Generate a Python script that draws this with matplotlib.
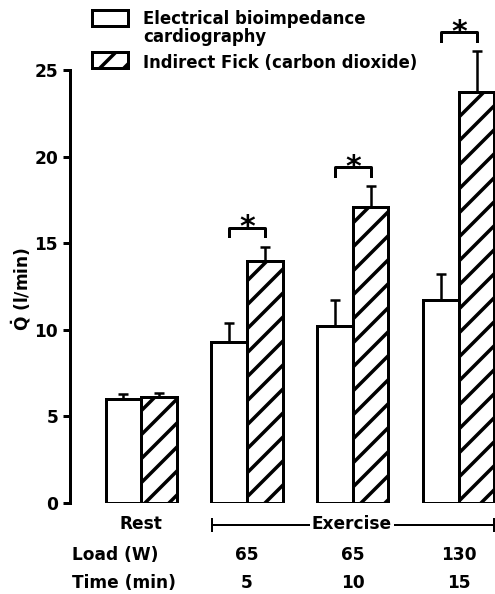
import numpy as np
import matplotlib.pyplot as plt
from matplotlib.patches import Rectangle

# ----------------------------------------
# data
# ----------------------------------------
conditions = ['Rest', '65/5', '65/10', '130/15']
load_w = ['65', '65', '130']
time_min = ['5', '10', '15']

bioimp = [6.0, 9.3, 10.2, 11.7]
bioimp_err = [0.3, 1.1, 1.5, 1.5]
fick = [6.1, 14.0, 17.1, 23.7]
fick_err = [0.25, 0.8, 1.2, 2.4]
signif = [False, True, True, True]

# dpi 72 -> one point is one pixel, and '/' hatch gets ~12 px spacing
DPI = 72
W, H = 495, 594

plt.rcParams['font.family'] = 'DejaVu Sans'
plt.rcParams['font.weight'] = 'bold'
plt.rcParams['hatch.linewidth'] = 3.5
plt.rcParams['mathtext.fontset'] = 'dejavusans'

fig = plt.figure(figsize=(W / DPI, H / DPI), dpi=DPI)
ax = fig.add_axes([70 / W, 91 / H, 425 / W, 503 / H])

x = np.arange(len(conditions))
w = 0.335
lw = 3.0
fs = 17

ax.bar(x - w / 2, bioimp, w, color='white', edgecolor='black', linewidth=lw, zorder=2)
ax.bar(x + w / 2, fick, w, color='white', edgecolor='black', linewidth=lw, hatch='/', zorder=2)

# upward error bars only
zeros = np.zeros(len(conditions))
ax.errorbar(x - w / 2, bioimp, yerr=[zeros, bioimp_err], fmt='none', ecolor='black',
            elinewidth=2.5, capsize=5, capthick=2.5, zorder=1)
ax.errorbar(x + w / 2, fick, yerr=[zeros, fick_err], fmt='none', ecolor='black',
            elinewidth=2.5, capsize=5, capthick=2.5, zorder=1)

# significance brackets
for i in range(len(conditions)):
    if not signif[i]:
        continue
    top = fick[i] + fick_err[i] + 1.1
    ax.plot([i - w / 2, i - w / 2, i + w / 2, i + w / 2], [top - 0.5, top, top, top - 0.5],
            color='black', linewidth=lw, clip_on=False)
    ax.text(i, top - 0.5, '*', ha='center', va='baseline', fontsize=30, fontweight='bold')

ax.set_xlim(-0.67, 3.34)
ax.set_ylim(0, 29.04)
ax.set_yticks([0, 5, 10, 15, 20, 25])
ax.tick_params(axis='y', direction='out', length=7, width=lw, labelsize=fs, pad=5)
ax.set_xticks([])
for side in ['top', 'right', 'bottom']:
    ax.spines[side].set_visible(False)
ax.spines['left'].set_linewidth(lw)
ax.spines['left'].set_bounds(0, 25)
ax.set_ylabel(r'$\dot{\mathbf{Q}}$ (l/min)', fontsize=fs, fontweight='bold')
ax.yaxis.set_label_coords(-0.087, 0.425)

# labels under the bars
trans = ax.get_xaxis_transform()
ax.text(0, -0.042, 'Rest', transform=trans, ha='center', va='center', fontsize=fs)
ax.plot([0.67, 3.335], [-0.043, -0.043], transform=trans, color='black', linewidth=2, clip_on=False)
for xe in [0.67, 3.335]:
    ax.plot([xe, xe], [-0.055, -0.031], transform=trans, color='black', linewidth=2, clip_on=False)
ax.text(1.99, -0.042, 'Exercise', transform=trans, ha='center', va='center', fontsize=fs,
        bbox=dict(facecolor='white', edgecolor='none', pad=2))

ax.text(-0.65, -0.103, 'Load (W)', transform=trans, ha='left', va='center', fontsize=fs)
ax.text(-0.65, -0.16, 'Time (min)', transform=trans, ha='left', va='center', fontsize=fs)
for i in range(len(load_w)):
    ax.text(x[i + 1], -0.103, load_w[i], transform=trans, ha='center', va='center', fontsize=fs)
    ax.text(x[i + 1], -0.16, time_min[i], transform=trans, ha='center', va='center', fontsize=fs)

# legend drawn by hand so the first box lines up with the first text line
for y_top, hatch in [(10, ''), (52, '/')]:
    fig.add_artist(Rectangle((92 / W, 1 - (y_top + 16) / H), 36 / W, 16 / H, transform=fig.transFigure,
                             facecolor='white', edgecolor='black', linewidth=lw, hatch=hatch))
fig.text(143 / W, 1 - 10 / H, 'Electrical bioimpedance\ncardiography', ha='left', va='top',
         fontsize=16.5, linespacing=1.0)
fig.text(143 / W, 1 - 54 / H, 'Indirect Fick (carbon dioxide)', ha='left', va='top', fontsize=16.5)

fig.savefig('out.png', dpi=DPI)
